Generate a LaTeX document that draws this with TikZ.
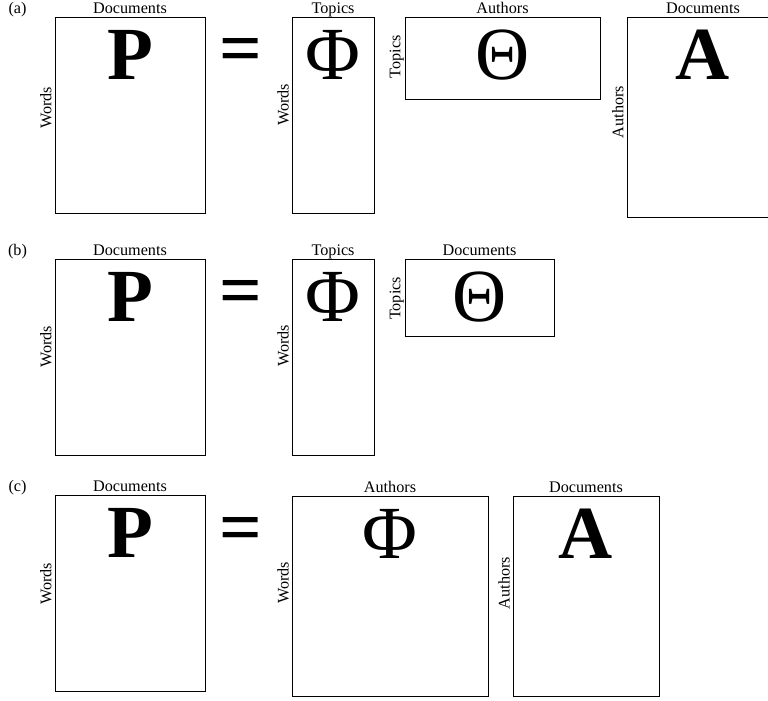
\documentclass[tikz,border=0pt]{standalone}
\usepackage{fontspec}
\setmainfont{Liberation Serif}
\usetikzlibrary{positioning,calc}

\begin{document}
\begin{tikzpicture}[x=0.5pt, y=-0.5pt,
  mat/.style={rectangle, draw, line width=0.5pt, inner sep=0pt},
  big/.style={inner sep=0pt, anchor=north, font=\fontsize{37.5}{40}\selectfont\bfseries},
  bigreg/.style={big, font=\fontsize{37.5}{40}\selectfont},
  lab/.style={inner sep=0pt, anchor=base, font=\fontsize{8.1}{9.7}\selectfont},
  side/.style={lab, rotate=90}]
  \useasboundingbox (0,0) rectangle (768,701);

  % (a)
  \node (taga) [lab] at (17.5,14) {(a)};
  \node (pa) [mat, minimum width=75pt, minimum height=98pt] at (130,116) {};
  \node (phia) [mat, minimum width=41pt, minimum height=98pt] at (333,116) {};
  \node (thetaa) [mat, minimum width=97.5pt, minimum height=41pt] at (502.5,59) {};
  \node (aa) [mat, minimum width=76pt, minimum height=100pt] at (703,118) {};
  \node (eqa) [big, anchor=center] at (241,56) {=};
  \node [big] at ($(pa.north)+(0,12)$) {P};
  \node [bigreg] at ($(phia.north)+(0,12)$) {Φ};
  \node [bigreg] at ($(thetaa.north)+(0,12)$) {Θ};
  \node [big] at ($(aa.north)+(0,12)$) {A};
  \node [lab] at ($(pa.north)+(0,-4)$) {Documents};
  \node [lab] at ($(phia.north)+(0,-4)$) {Topics};
  \node [lab] at ($(thetaa.north)+(0,-4)$) {Authors};
  \node [lab] at ($(aa.north)+(0,-4)$) {Documents};
  \node [side] at ($(pa.west)+(-3,-8)$) {Words};
  \node [side] at ($(phia.west)+(-3,-11)$) {Words};
  \node [side] at ($(thetaa.west)+(-4,-2)$) {Topics};
  \node [side] at ($(aa.west)+(-3,-6)$) {Authors};

  % (b)
  \node (tagb) [lab] at (17.5,256) {(b)};
  \node (pb) [mat, minimum width=75pt, minimum height=98pt] at (130,358) {};
  \node (phib) [mat, minimum width=41pt, minimum height=98pt] at (333,358) {};
  \node (thetab) [mat, minimum width=74.5pt, minimum height=38.5pt] at (479.5,298.5) {};
  \node (eqb) [big, anchor=center] at (241,297.5) {=};
  \node [big] at ($(pb.north)+(0,12)$) {P};
  \node [bigreg] at ($(phib.north)+(0,12)$) {Φ};
  \node [bigreg] at ($(thetab.north)+(0,12)$) {Θ};
  \node [lab] at ($(pb.north)+(0,-4)$) {Documents};
  \node [lab] at ($(phib.north)+(0,-4)$) {Topics};
  \node [lab] at ($(thetab.north)+(0,-4)$) {Documents};
  \node [side] at ($(pb.west)+(-3,-11)$) {Words};
  \node [side] at ($(phib.west)+(-3,-12)$) {Words};
  \node [side] at ($(thetab.west)+(-4,0)$) {Topics};

  % (c)
  \node (tagc) [lab] at (17.5,492) {(c)};
  \node (pc) [mat, minimum width=75pt, minimum height=98pt] at (130,594) {};
  \node (phic) [mat, minimum width=98pt, minimum height=100pt] at (390,597) {};
  \node (ac) [mat, minimum width=73pt, minimum height=100pt] at (586,597) {};
  \node (eqc) [big, anchor=center] at (241,535) {=};
  \node [big] at ($(pc.north)+(0,12)$) {P};
  \node [bigreg] at ($(phic.north)+(0,12)$) {Φ};
  \node [big] at ($(ac.north)+(0,12)$) {A};
  \node [lab] at ($(pc.north)+(0,-4)$) {Documents};
  \node [lab] at ($(phic.north)+(0,-4)$) {Authors};
  \node [lab] at ($(ac.north)+(0,-4)$) {Documents};
  \node [side] at ($(pc.west)+(-3,-10)$) {Words};
  \node [side] at ($(phic.west)+(-3,-14)$) {Words};
  \node [side] at ($(ac.west)+(-3,-14)$) {Authors};
\end{tikzpicture}
\end{document}
